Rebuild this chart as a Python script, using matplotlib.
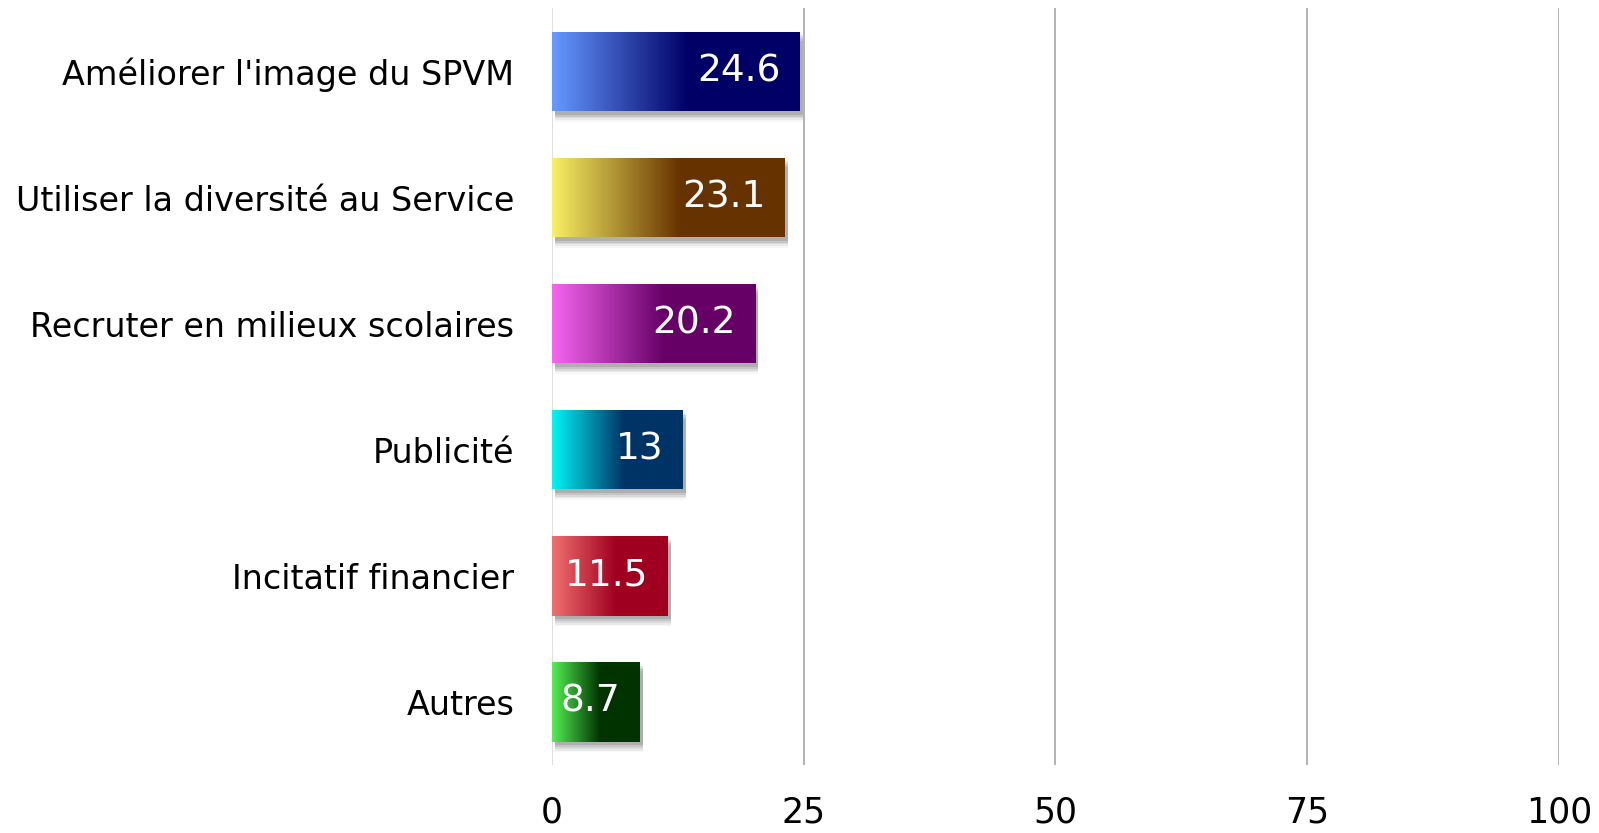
import numpy as np
import matplotlib
matplotlib.use('Agg')
import matplotlib.pyplot as plt
from matplotlib.colors import LinearSegmentedColormap
from matplotlib.patches import Rectangle

categories = ["Améliorer l'image du SPVM", "Utiliser la diversité au Service",
              "Recruter en milieux scolaires", "Publicité",
              "Incitatif financier", "Autres"]
values = [24.6, 23.1, 20.2, 13, 11.5, 8.7]
value_labels = ["24.6", "23.1", "20.2", "13", "11.5", "8.7"]
light_colors = ["#6699FF", "#F7F065", "#F565F0", "#00F5F5", "#F07070", "#55EE55"]
dark_colors = ["#000066", "#663300", "#660066", "#003366", "#A00020", "#003300"]
xticks = [0, 25, 50, 75, 100]

plt.rcParams['font.family'] = ['DejaVu Sans']

fig = plt.figure(figsize=(15.99, 8.33), dpi=100)
ax = fig.add_axes([0.3452, 0.0816, 0.6298, 0.9084])

ypos = np.arange(len(values))
bar_h = 0.63

# gridlines
for t in xticks:
    ax.axvline(t, color='#D9D9D9' if t == 0 else '#A6A6A6', lw=1.2, zorder=0)

for i, (v, lc, dc) in enumerate(zip(values, light_colors, dark_colors)):
    # soft shadow under the bar
    for k, a in enumerate([0.03, 0.05, 0.07, 0.09, 0.11]):
        off = 0.085 - k * 0.014
        ax.add_patch(Rectangle((0.3, i - bar_h / 2 + off), v, bar_h,
                               color='black', alpha=a, lw=0, zorder=1))
    bar = ax.barh(i, v, height=bar_h, color=dc, zorder=2)[0]
    cmap = LinearSegmentedColormap.from_list('g%d' % i, [lc, dc, dc], N=256)
    grad = np.linspace(0, 1, 256).reshape(1, -1)
    grad = np.clip(grad / 0.55, 0, 1) * 0.5
    im = ax.imshow(grad, cmap=cmap, vmin=0, vmax=1, aspect='auto',
                   extent=[0, v, i + bar_h / 2, i - bar_h / 2], zorder=3)
    im.set_clip_path(bar)
    ax.annotate(value_labels[i], (v, i), xytext=(-14, 0), textcoords='offset points',
                ha='right', va='center', color='white', fontsize=27, zorder=4)

ax.set_xlim(0, 100)
ax.set_ylim(len(values) - 0.5, -0.5)
ax.set_yticks(ypos)
ax.set_yticklabels(categories, fontsize=24)
ax.set_xticks(xticks)
ax.set_xticklabels([str(t) for t in xticks], fontsize=25)
ax.tick_params(axis='y', length=0, pad=27)
ax.tick_params(axis='x', length=0, pad=22)
for s in ax.spines.values():
    s.set_visible(False)

fig.savefig('out.png', dpi=100)
